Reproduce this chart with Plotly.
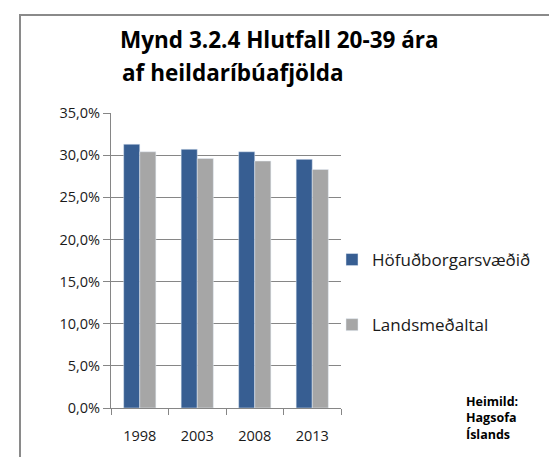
import plotly.graph_objects as go

years = ["1998", "2003", "2008", "2013"]
hofudborg = [31.3, 30.7, 30.4, 29.5]
lands = [30.4, 29.6, 29.3, 28.3]
series_names = ["Höfuðborgarsvæðið", "Landsmeðaltal"]
tick_vals = [0, 5, 10, 15, 20, 25, 30, 35]
tick_text = ["0,0%", "5,0%", "10,0%", "15,0%", "20,0%", "25,0%", "30,0%", "35,0%"]
title_lines = ["Mynd 3.2.4 Hlutfall 20-39 ára", "af heildaríbúafjölda"]
source_text = ["Heimild:", "Hagsofa", "Íslands"]

FONT = "Open Sans"
W, H = 549, 457
L, R, T, B = 111, 208, 113, 49
pw, ph = W - L - R, H - T - B

fig = go.Figure()
fig.add_trace(go.Bar(x=years, y=hofudborg, name=series_names[0], marker_color="#375E92",
                     legendgroup="a"))
fig.add_trace(go.Bar(x=years, y=lands, name=series_names[1], marker_color="#A6A6A6",
                     legendgroup="b"))

def px_x(v):
    return (v - L) / pw

def px_y(v):
    return (H - B - v) / ph

fig.update_layout(
    width=W, height=H,
    margin=dict(l=L, r=R, t=T, b=B, autoexpand=False),
    paper_bgcolor="white", plot_bgcolor="white",
    barmode="group", bargap=0.44, bargroupgap=0,
    font=dict(family=FONT, color="#1a1a1a"),
    title=dict(text="<b>" + title_lines[0] + "</b>",
               x=120 / W, xanchor="left", y=1 - 40 / H, yanchor="middle",
               font=dict(family=FONT, size=22.5, color="black")),
    xaxis=dict(showgrid=False, showline=True, linecolor="#868686", linewidth=1,
               ticks="outside", tickson="boundaries", ticklen=6, tickcolor="#868686",
               ticklabelstandoff=15, automargin=False,
               tickfont=dict(size=14.5, family=FONT, color="#1a1a1a")),
    yaxis=dict(range=[0, 35], tickvals=tick_vals, ticktext=tick_text,
               showgrid=True, gridcolor="#868686", gridwidth=1,
               showline=True, linecolor="#868686", linewidth=1,
               ticks="outside", ticklen=7, tickcolor="#868686", automargin=False,
               tickfont=dict(size=14.5, family=FONT, color="#1a1a1a")),
    legend=dict(x=px_x(332), y=px_y(242), xanchor="left", yanchor="top",
                traceorder="grouped", tracegroupgap=40,
                font=dict(size=17, family=FONT, color="#1a1a1a"),
                itemwidth=30, bgcolor="rgba(0,0,0,0)"),
    shapes=[dict(type="rect", xref="paper", yref="paper",
                 x0=px_x(20), x1=px_x(600), y0=px_y(520), y1=px_y(15),
                 line=dict(color="#8a8a8a", width=2), fillcolor="rgba(0,0,0,0)",
                 layer="below")],
    annotations=[
        dict(text="<b>" + title_lines[1] + "</b>", xref="paper", yref="paper",
             x=px_x(120), y=px_y(72), xanchor="left", yanchor="middle",
             showarrow=False, font=dict(size=22.5, family=FONT, color="black")),
        dict(text="<b>" + "<br>".join(source_text) + "</b>", xref="paper", yref="paper",
             x=px_x(464), y=px_y(391), xanchor="left", yanchor="top", align="left",
             showarrow=False, font=dict(size=12.5, family=FONT, color="black")),
    ],
)

fig.write_html("out.html", config={"displayModeBar": False},
               post_script="document.body.style.margin='0';")
